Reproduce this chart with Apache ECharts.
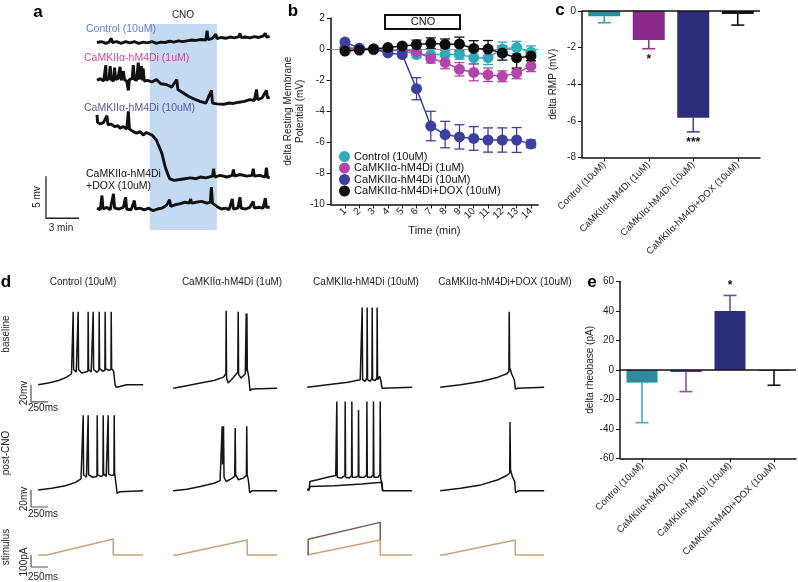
<!DOCTYPE html>
<html>
<head>
<meta charset="utf-8">
<script src="https://cdn.jsdelivr.net/npm/echarts@6/dist/echarts.min.js"></script>
<style>
html, body { margin: 0; padding: 0; background: #fff; }
#chart { width: 798px; height: 582px; }
</style>
</head>
<body>
<div id="chart"></div>
<script>
// ---- panel a: RMP traces [min, mV], stacked for display ----
var traceCtrl = [[0,-2.2],[0.4,-2.1],[0.8,-2.3],[1.1,-2.15],[1.3,-1.7],[1.4,-2.2],[1.8,-2.1],[2.2,-2.3],[2.6,-2.1],[3.0,-2.25],[3.4,-2.1],[3.8,-2.3],[4.2,-2.15],[4.6,-2.25],[5.0,-2.1],[5.4,-2.3],[5.8,-2.15],[6.2,-2.2],[6.6,-2.05],[7.0,-2.15],[7.4,-2.0],[7.8,-2.1],[8.2,-2.0],[8.6,-1.9],[9.0,-1.95],[9.4,-1.85],[9.9,-1.9],[10.0,-0.8],[10.1,-1.85],[10.5,-1.7],[10.8,-1.2],[10.9,-1.75],[11.3,-1.6],[11.7,-1.7],[12.1,-1.55],[12.5,-1.65],[12.9,-1.5],[13.0,-1.1],[13.1,-1.6],[13.5,-1.55],[13.9,-1.65],[14.3,-1.5],[14.7,-1.6],[15.1,-1.45],[15.3,-1.1],[15.4,-1.55],[15.7,-1.5]];
var trace1uM = [[0,-6.7],[0.3,-6.5],[0.6,-6.8],[0.75,-6.6],[0.8,-4.9],[0.85,-6.7],[1.1,-6.5],[1.2,-5.0],[1.3,-6.6],[1.5,-6.8],[1.6,-5.2],[1.7,-6.6],[1.9,-6.5],[2.1,-5.1],[2.2,-6.7],[2.4,-5.6],[2.5,-6.6],[2.7,-6.8],[2.85,-7.9],[2.95,-6.6],[3.2,-6.5],[3.3,-4.9],[3.4,-6.6],[3.6,-6.7],[3.75,-4.6],[3.85,-6.6],[4.05,-5.0],[4.15,-6.7],[4.2,-5.3],[4.3,-6.8],[4.6,-6.7],[5.0,-6.9],[5.4,-6.6],[5.8,-7.1],[6.3,-7.2],[6.8,-7.5],[7.25,-6.6],[7.35,-7.8],[7.85,-8.2],[8.3,-8.6],[8.8,-8.9],[9.36,-9.2],[9.9,-9.4],[10.4,-7.9],[10.5,-9.4],[10.9,-9.5],[11.5,-9.55],[12.0,-9.4],[12.4,-9.45],[12.9,-9.3],[13.4,-9.2],[13.9,-9.0],[14.3,-9.1],[14.5,-7.8],[14.6,-9.0],[15.0,-8.8],[15.4,-7.9],[15.5,-8.8],[15.7,-8.7]];
var trace10uM = [[0,-10.8],[0.05,-11.7],[0.3,-11.9],[0.6,-11.7],[0.9,-10.9],[1.0,-12.0],[1.3,-11.9],[1.6,-12.2],[1.9,-12.1],[2.1,-12.4],[2.4,-12.2],[2.7,-12.5],[2.85,-10.4],[2.95,-12.5],[3.3,-12.8],[3.6,-13.0],[3.9,-12.8],[4.2,-13.2],[4.5,-12.9],[4.8,-13.1],[5.0,-13.2],[5.4,-13.8],[5.9,-15.4],[6.2,-17.0],[6.6,-18.4],[7.0,-18.6],[7.55,-18.5],[8.0,-18.4],[8.5,-18.3],[9.0,-18.4],[9.4,-18.2],[9.9,-18.3],[10.5,-18.1],[10.6,-17.2],[10.7,-18.2],[11.2,-18.0],[11.8,-18.2],[12.3,-18.0],[12.4,-17.3],[12.5,-18.1],[13.0,-17.9],[13.6,-18.1],[14.1,-18.0],[14.2,-17.2],[14.3,-18.1],[14.8,-18.0],[15.3,-18.2],[15.4,-17.1],[15.5,-18.2],[15.7,-18.3]];
var traceDox = [[0,-21.9],[0.3,-22.1],[0.45,-20.4],[0.55,-22.0],[0.9,-21.8],[1.2,-22.1],[1.5,-20.2],[1.6,-21.9],[2.0,-22.0],[2.4,-21.8],[2.6,-20.6],[2.7,-22.0],[3.1,-22.1],[3.4,-21.0],[3.5,-22.0],[3.9,-21.9],[4.3,-22.1],[4.7,-21.9],[5.1,-22.2],[5.5,-22.0],[5.9,-21.9],[6.3,-21.6],[6.6,-20.9],[6.7,-21.7],[7.1,-21.5],[7.5,-21.4],[8.0,-21.2],[8.4,-21.3],[8.5,-20.8],[8.6,-21.3],[9.0,-21.2],[9.5,-21.1],[10.0,-21.3],[10.3,-21.2],[10.4,-19.4],[10.5,-21.3],[10.9,-21.7],[11.3,-22.0],[11.7,-21.9],[12.0,-22.1],[12.3,-20.8],[12.4,-22.0],[12.8,-21.9],[13.0,-20.6],[13.1,-21.9],[13.5,-22.0],[13.9,-21.8],[14.2,-21.1],[14.3,-21.9],[14.7,-21.8],[15.1,-21.9],[15.3,-20.7],[15.4,-21.8],[15.7,-21.8]];
var cnoWindow = [4.8, 10.9];
var aScaleOrigin = [-4.64, -23.1];
var aScaleMv = 5, aScaleMin = 3;

// ---- panel b: delta RMP over time ----
var times = [1,2,3,4,5,6,7,8,9,10,11,12,13,14];
var bCtrl = [0.1,0.05,0,-0.05,-0.1,-0.35,-0.35,-0.35,-0.35,-0.55,-0.55,0.0,0.1,-0.2];
var bCtrlSem = [0,0,0.05,0.05,0.1,0.2,0.35,0.4,0.3,0.4,0.45,0.45,0.4,0.4];
var b1uM = [0.05,0.0,-0.05,-0.1,-0.05,-0.17,-0.6,-0.87,-1.3,-1.5,-1.65,-1.75,-1.55,-1.1];
var b1uMSem = [0,0,0.05,0.05,0.05,0.1,0.3,0.4,0.43,0.54,0.43,0.35,0.36,0.35];
var b10uM = [0.45,0.05,0.0,-0.25,-0.35,-2.55,-4.95,-5.5,-5.65,-5.75,-5.85,-5.85,-5.85,-6.1];
var b10uMSem = [0,0.05,0.05,0.1,0.1,0.71,0.95,0.85,0.78,0.76,0.78,0.78,0.8,0.25];
var bDox = [-0.13,-0.06,0.0,0.1,0.2,0.28,0.37,0.3,0.32,0.04,0.0,-0.26,-0.57,-0.45];
var bDoxSem = [0,0,0.05,0.05,0.1,0.3,0.35,0.35,0.45,0.5,0.55,0.45,0.7,0.3];

// ---- panels c and e ----
var groups = ['Control (10uM)', 'CaMKIIα-hM4Di (1uM)', 'CaMKIIα-hM4Di (10uM)', 'CaMKIIα-hM4Di+DOX (10uM)'];
var rmpMean = [-0.28, -1.58, -5.83, -0.16];
var rmpErr = [0.36, 0.48, 0.77, 0.61];
var rmpStars = ['', '*', '***', ''];
var rheoMean = [-8.6, -1.4, 40, -0.5];
var rheoErr = [27.2, 13.3, 10.6, 9.9];
var rheoStars = ['', '', '*', ''];

// ---- panel d: example traces [ms, mV] and stimulus [ms, pA] ----
var dBaseline = [
  [[0,-68],[150,-66],[300,-63],[420,-59],[490,-55],[511,-53],[515,18],[521,-50],[560,-53],[584,-52],[588,18],[594,-50],[640,-54],[700,-53],[731,-52],[735,18],[741,-50],[780,-53],[805,-52],[809,18],[815,-50],[860,-53],[893,-51],[897,18],[903,-49],[950,-52],[981,-51],[985,18],[991,-49],[1040,-51],[1070,-50],[1074,18],[1080,-49],[1110,-52],[1130,-68],[1150,-71],[1200,-70],[1300,-68],[1544,-68]],
  [[0,-72],[200,-69],[400,-66],[600,-63],[740,-59],[775,-55],[779,19],[785,-60],[810,-66],[880,-60],[950,-53],[956,18],[962,-56],[1000,-60],[1060,-55],[1074,16],[1080,-52],[1084,16],[1090,-50],[1110,-58],[1130,-75],[1160,-73],[1529,-72]],
  [[0,-71],[300,-68],[600,-65],[780,-62],[805,-60],[809,23],[815,-62],[850,-64],[878,-60],[882,23],[888,-62],[925,-64],[952,-60],[956,23],[962,-62],[1000,-63],[1025,-60],[1029,23],[1035,-62],[1055,-63],[1065,-58],[1080,-62],[1100,-72],[1544,-71]],
  [[0,-71],[300,-68],[600,-64],[850,-59],[980,-55],[1010,-52],[1015,18],[1022,-48],[1050,-55],[1090,-62],[1105,-73],[1140,-72],[1529,-71]]
];
var dPostCno = [
  [[0,-70],[200,-68],[400,-65],[550,-61],[630,-57],[658,-55],[662,18],[668,-52],[710,-55],[731,-54],[735,18],[741,-52],[800,-55],[864,-54],[868,18],[874,-52],[920,-54],[952,-53],[956,18],[962,-51],[1000,-54],[1025,-53],[1029,18],[1035,-51],[1080,-53],[1114,-52],[1118,18],[1124,-50],[1140,-60],[1160,-74],[1200,-72],[1544,-71]],
  [[0,-71],[200,-69],[400,-66],[600,-62],[690,-59],[716,-57],[720,5],[726,-40],[730,5],[736,-40],[740,5],[748,-55],[780,-60],[850,-57],[905,-54],[912,3],[918,-52],[960,-58],[1030,-56],[1076,-53],[1082,5],[1088,-52],[1105,-58],[1125,-73],[1160,-71],[1529,-71]],
  [[0,-69],[30,-69],[40,-60],[150,-58],[300,-55],[420,-53],[432,-52],[436,34],[442,-55],[500,-56],[555,-53],[559,34],[565,-55],[620,-56],[653,-53],[657,34],[663,-55],[720,-55],[751,-53],[755,24],[761,-55],[840,-55],[874,-52],[878,34],[884,-55],[940,-55],[971,-52],[975,34],[981,-55],[1040,-55],[1070,-52],[1074,34],[1080,-55],[1100,-56],[1110,-71],[1544,-71]],
  [[0,-71],[300,-68],[600,-64],[850,-58],[980,-53],[1022,-50],[1027,10],[1034,-46],[1060,-54],[1095,-60],[1108,-73],[1150,-71],[1529,-71]]
];
var dPostCnoSub = [[0,-70],[30,-70],[40,-66],[400,-65],[800,-63],[1100,-61],[1110,-71]];
var dStimulus = [
  [[0,0],[128,0],[1103,133],[1103,0],[1544,0]],
  [[0,0],[59,0],[1088,125],[1088,0],[1529,0]],
  [[0,0],[15,0],[1074,125],[1074,0],[1544,0]],
  [[0,0],[44,0],[1103,125],[1103,0],[1529,0]]
];
var dStimulusHigh = [[15,0],[15,131],[1074,272],[1074,125]];
var dScaleMv = 20, dScaleMs = 250, dScalePa = 100;

var FONT = '"Liberation Sans", Arial, sans-serif';
var myChart = echarts.init(document.getElementById('chart'));

var grids = [], xAxes = [], yAxes = [], series = [];
function addGrid(g, xa, ya) {
    var idx = grids.length;
    grids.push(g);
    xa.gridIndex = idx; ya.gridIndex = idx;
    xAxes.push(xa); yAxes.push(ya);
    return idx;
}
function hiddenAxis(min, max) { return {type: 'value', show: false, min: min, max: max}; }
function lineSeries(idx, data, color, width, z) {
    return {type: 'line', xAxisIndex: idx, yAxisIndex: idx, data: data, symbol: 'none',
        silent: true, animation: false, z: z || 3,
        lineStyle: {color: color, width: width}};
}

// ---- panel a ----
var ga = addGrid({left: 45.3, top: 24, width: 225.5, height: 206},
    hiddenAxis(-4.7, 15.8), hiddenAxis(-24.5, 0));
series.push({type: 'line', xAxisIndex: ga, yAxisIndex: ga, data: [], z: 1, silent: true,
    markArea: {silent: true, itemStyle: {color: '#c4daf2'},
        data: [[{xAxis: cnoWindow[0]}, {xAxis: cnoWindow[1]}]]}});
[traceCtrl, trace1uM, trace10uM, traceDox].forEach(function (t) {
    series.push(lineSeries(ga, t, '#111', 2.9));
});
series.push(lineSeries(ga, [
    [aScaleOrigin[0], aScaleOrigin[1] + aScaleMv], aScaleOrigin,
    [aScaleOrigin[0] + aScaleMin, aScaleOrigin[1]]], '#222', 1.3));

// ---- panel b ----
var axisBlack = {show: true, onZero: false, lineStyle: {color: '#111', width: 1.5}};
var gb = addGrid({left: 330.7, top: 18, width: 207.4, height: 186.5},
    {type: 'value', min: 0, max: 14.5, interval: 1,
        name: 'Time (min)', nameLocation: 'middle', nameGap: 21,
        nameTextStyle: {fontSize: 11, color: '#222', fontFamily: FONT},
        axisLine: axisBlack, splitLine: {show: false},
        axisTick: {show: true, length: 4, lineStyle: {color: '#111'}, customValues: times},
        axisLabel: {rotate: 45, fontSize: 10, color: '#222', margin: 5, fontFamily: FONT,
            customValues: times,
            formatter: function (v) { return (v >= 1 && v <= 14 && v % 1 === 0) ? v : ''; }}},
    {type: 'value', min: -10, max: 2, interval: 2,
        name: 'delta Resting Membrane\nPotential (mV)', nameLocation: 'middle', nameGap: 24,
        nameTextStyle: {fontSize: 10, color: '#222', lineHeight: 12, fontFamily: FONT},
        axisLine: axisBlack, splitLine: {show: false},
        axisTick: {show: true, length: 4, lineStyle: {color: '#111'}},
        axisLabel: {fontSize: 10, color: '#222', margin: 6, fontFamily: FONT}});

function timeErrBars(means, sems, color) {
    return {type: 'custom', xAxisIndex: gb, yAxisIndex: gb, z: 2, silent: true,
        data: times.map(function (t, i) { return [t, means[i], sems[i]]; }),
        renderItem: function (params, api) {
            var x = api.value(0), m = api.value(1), s = api.value(2);
            var hi = api.coord([x, m + s]), lo = api.coord([x, m - s]);
            var st = {stroke: color, lineWidth: 1.3};
            return {type: 'group', children: [
                {type: 'line', shape: {x1: hi[0], y1: hi[1], x2: lo[0], y2: lo[1]}, style: st},
                {type: 'line', shape: {x1: hi[0] - 5, y1: hi[1], x2: hi[0] + 5, y2: hi[1]}, style: st},
                {type: 'line', shape: {x1: lo[0] - 5, y1: lo[1], x2: lo[0] + 5, y2: lo[1]}, style: st}
            ]};
        }};
}
var bGroups = [
    {name: 'Control (10uM)', m: bCtrl, s: bCtrlSem, color: '#2fa9bb'},
    {name: 'CaMKIIα-hM4Di (1uM)', m: b1uM, s: b1uMSem, color: '#b244aa'},
    {name: 'CaMKIIα-hM4Di (10uM)', m: b10uM, s: b10uMSem, color: '#3b3f9f'},
    {name: 'CaMKIIα-hM4Di+DOX (10uM)', m: bDox, s: bDoxSem, color: '#0d0d0d'}
];
bGroups.forEach(function (g, k) {
    series.push(timeErrBars(g.m, g.s, g.color));
    var s = {type: 'line', name: g.name, xAxisIndex: gb, yAxisIndex: gb, z: 4 + k,
        data: times.map(function (t, i) { return [t, g.m[i]]; }),
        symbol: 'circle', symbolSize: 11, animation: false,
        itemStyle: {color: g.color}, lineStyle: {color: g.color, width: 1.5}};
    if (k === 0) {
        s.markLine = {silent: true, symbol: ['none', 'none'], label: {show: false},
            lineStyle: {color: '#999', width: 1, type: 'solid'}, data: [{yAxis: 0}]};
    }
    series.push(s);
});

// ---- panels c and e ----
function oneSidedErr(idx, means, errs, stars, colors, starOffset) {
    return {type: 'custom', xAxisIndex: idx, yAxisIndex: idx, z: 3, silent: true,
        data: means.map(function (m, i) { return [i, m, errs[i]]; }),
        renderItem: function (params, api) {
            var i = params.dataIndex, m = api.value(1), e = api.value(2);
            var end = m < 0 ? m - e : m + e;
            var p0 = api.coord([i, m]), p1 = api.coord([i, end]);
            var st = {stroke: colors[i], lineWidth: 1.6};
            return {type: 'group', children: [
                {type: 'line', shape: {x1: p0[0], y1: p0[1], x2: p1[0], y2: p1[1]}, style: st},
                {type: 'line', shape: {x1: p1[0] - 6.5, y1: p1[1], x2: p1[0] + 6.5, y2: p1[1]}, style: st},
                {type: 'text', x: p1[0], y: p1[1] + (m < 0 ? starOffset : -starOffset),
                    style: {text: stars[i], fill: '#111', font: 'bold 12px ' + FONT,
                        textAlign: 'center', textVerticalAlign: 'middle'}}
            ]};
        }};
}
function catAxis() {
    return {type: 'category', data: groups,
        axisLine: axisBlack, axisTick: {show: true, alignWithLabel: true, length: 4, lineStyle: {color: '#111'}},
        axisLabel: {rotate: 45, interval: 0, fontSize: 9.5, color: '#222', margin: 6, fontFamily: FONT}};
}
function valAxis(min, max, interval, name, gap) {
    return {type: 'value', min: min, max: max, interval: interval,
        name: name, nameLocation: 'middle', nameGap: gap,
        nameTextStyle: {fontSize: 10, color: '#222', fontFamily: FONT},
        axisLine: axisBlack, splitLine: {show: false},
        axisTick: {show: true, length: 4, lineStyle: {color: '#111'}},
        axisLabel: {fontSize: 10, color: '#222', margin: 6, fontFamily: FONT}};
}
var zeroLine = {silent: true, symbol: ['none', 'none'], label: {show: false},
    lineStyle: {color: '#111', width: 1.5, type: 'solid'}, data: [{yAxis: 0}]};

var gc = addGrid({left: 582, top: 11, width: 178, height: 146.5}, catAxis(),
    valAxis(-8, 0, 2, 'delta RMP (mV)', 24));
var cBarColors = ['#2b8e9e', '#8a2a8a', '#2d2c77', '#151515'];
var cErrColors = ['#3a9fb0', '#8c3a8e', '#4b4a98', '#111'];
series.push({type: 'bar', xAxisIndex: gc, yAxisIndex: gc, barWidth: 32, z: 2, animation: false,
    data: rmpMean.map(function (v, i) { return {value: v, itemStyle: {color: cBarColors[i]}}; }),
    markLine: zeroLine});
series.push(oneSidedErr(gc, rmpMean, rmpErr, rmpStars, cErrColors, 11));

var ge = addGrid({left: 620, top: 281.6, width: 176, height: 176.7}, catAxis(),
    valAxis(-60, 60, 20, 'delta rheobase (pA)', 23));
var eBarColors = ['#2a8c9c', '#7a2a82', '#2c2d79', '#151515'];
var eErrColors = ['#4aa8bb', '#9a4aa6', '#5a56aa', '#111'];
series.push({type: 'bar', xAxisIndex: ge, yAxisIndex: ge, barWidth: 31, z: 2, animation: false,
    data: rheoMean.map(function (v, i) { return {value: v, itemStyle: {color: eBarColors[i]}}; }),
    markLine: zeroLine});
series.push(oneSidedErr(ge, rheoMean, rheoErr, rheoStars, eErrColors, 10));

// ---- panel d: 3 rows x 4 cells ----
var colLefts = [30, 165, 299, 432];
var rowDefs = [
    {top: 293, height: 119, min: -100, max: 40, traces: dBaseline, color: '#151515', bar: [-68, dScaleMv]},
    {top: 396.5, height: 119, min: -100, max: 40, traces: dPostCno, color: '#151515', bar: [-70, dScaleMv]},
    {top: 519, height: 50.4, min: -120, max: 300, traces: dStimulus, color: '#c9a277', bar: [0, dScalePa]}
];
rowDefs.forEach(function (r, ri) {
    colLefts.forEach(function (left, ci) {
        var gi = addGrid({left: left, top: r.top, width: 113.6, height: r.height},
            hiddenAxis(-120, 1550), hiddenAxis(r.min, r.max));
        series.push(lineSeries(gi, r.traces[ci], r.color, 1.5));
        if (ci === 2 && ri === 1) series.push(lineSeries(gi, dPostCnoSub, '#151515', 1.5));
        if (ci === 2 && ri === 2) series.push(lineSeries(gi, dStimulusHigh, '#7b5c4a', 1.5));
        if (ci === 0) {
            var top = r.bar[0], bottom = r.bar[0] - r.bar[1];
            series.push(lineSeries(gi, [[-105, top], [-105, bottom], [-105 + dScaleMs, bottom]], '#555', 1.2));
        }
    });
});

// ---- text annotations ----
function txt(x, y, text, opt) {
    opt = opt || {};
    return {type: 'text', x: x, y: y, rotation: opt.rot || 0, silent: true, z: 10,
        style: {text: text, fill: opt.color || '#222',
            font: (opt.weight || 'normal') + ' ' + (opt.size || 10) + 'px ' + FONT,
            textAlign: opt.align || 'center', textVerticalAlign: 'middle'}};
}
var graphics = [
    txt(38, 12, 'a', {size: 17, weight: 'bold', color: '#000'}),
    txt(293, 11, 'b', {size: 17, weight: 'bold', color: '#000'}),
    txt(560, 10, 'c', {size: 17, weight: 'bold', color: '#000'}),
    txt(6, 282, 'd', {size: 17, weight: 'bold', color: '#000'}),
    txt(592, 282, 'e', {size: 17, weight: 'bold', color: '#000'}),
    txt(183, 15, 'CNO', {size: 10}),
    txt(86, 29, 'Control (10uM)', {align: 'left', size: 10.5, color: '#5b7fd0'}),
    txt(84, 58, 'CaMKIIα-hM4Di (1uM)', {align: 'left', size: 10.5, color: '#d2479b'}),
    txt(84, 108, 'CaMKIIα-hM4Di (10uM)', {align: 'left', size: 10.5, color: '#5556a6'}),
    txt(86, 174, 'CaMKIIα-hM4Di', {align: 'left', size: 10.5, color: '#111'}),
    txt(86, 186, '+DOX (10uM)', {align: 'left', size: 10.5, color: '#111'}),
    txt(37, 197, '5 mv', {rot: Math.PI / 2, size: 10}),
    txt(61, 228, '3 min', {size: 10}),
    {type: 'rect', silent: true, z: 10, shape: {x: 385, y: 15, width: 75, height: 14},
        style: {fill: '#fff', stroke: '#111', lineWidth: 2}},
    txt(423, 22, 'CNO', {size: 11, color: '#111'}),
    txt(83, 282, 'Control (10uM)', {size: 10}),
    txt(232, 282, 'CaMKIIα-hM4Di (1uM)', {size: 10}),
    txt(366, 282, 'CaMKIIα-hM4Di (10uM)', {size: 10}),
    txt(505, 282, 'CaMKIIα-hM4Di+DOX (10uM)', {size: 10}),
    txt(6, 334, 'baseline', {rot: Math.PI / 2, size: 10}),
    txt(6, 453, 'post-CNO', {rot: Math.PI / 2, size: 10}),
    txt(6, 547, 'stimulus', {rot: Math.PI / 2, size: 10}),
    txt(24, 393, '20mv', {rot: Math.PI / 2, size: 10}),
    txt(43, 408, '250ms', {size: 10}),
    txt(24, 499, '20mv', {rot: Math.PI / 2, size: 10}),
    txt(43, 514, '250ms', {size: 10}),
    txt(24, 562, '100pA', {rot: Math.PI / 2, size: 10}),
    txt(43, 577, '250ms', {size: 10})
];

var option = {
    animation: false,
    textStyle: {fontFamily: FONT},
    legend: {
        data: bGroups.map(function (g) { return g.name; }),
        orient: 'vertical', left: 339, top: 151, padding: 0, itemGap: 0.5,
        icon: 'circle', itemWidth: 11, itemHeight: 11, selectedMode: false,
        textStyle: {fontSize: 11, color: '#111', fontFamily: FONT, padding: [0, 0, 0, -1]}
    },
    grid: grids,
    xAxis: xAxes,
    yAxis: yAxes,
    series: series,
    graphic: graphics
};
myChart.setOption(option);
</script>
</body>
</html>
